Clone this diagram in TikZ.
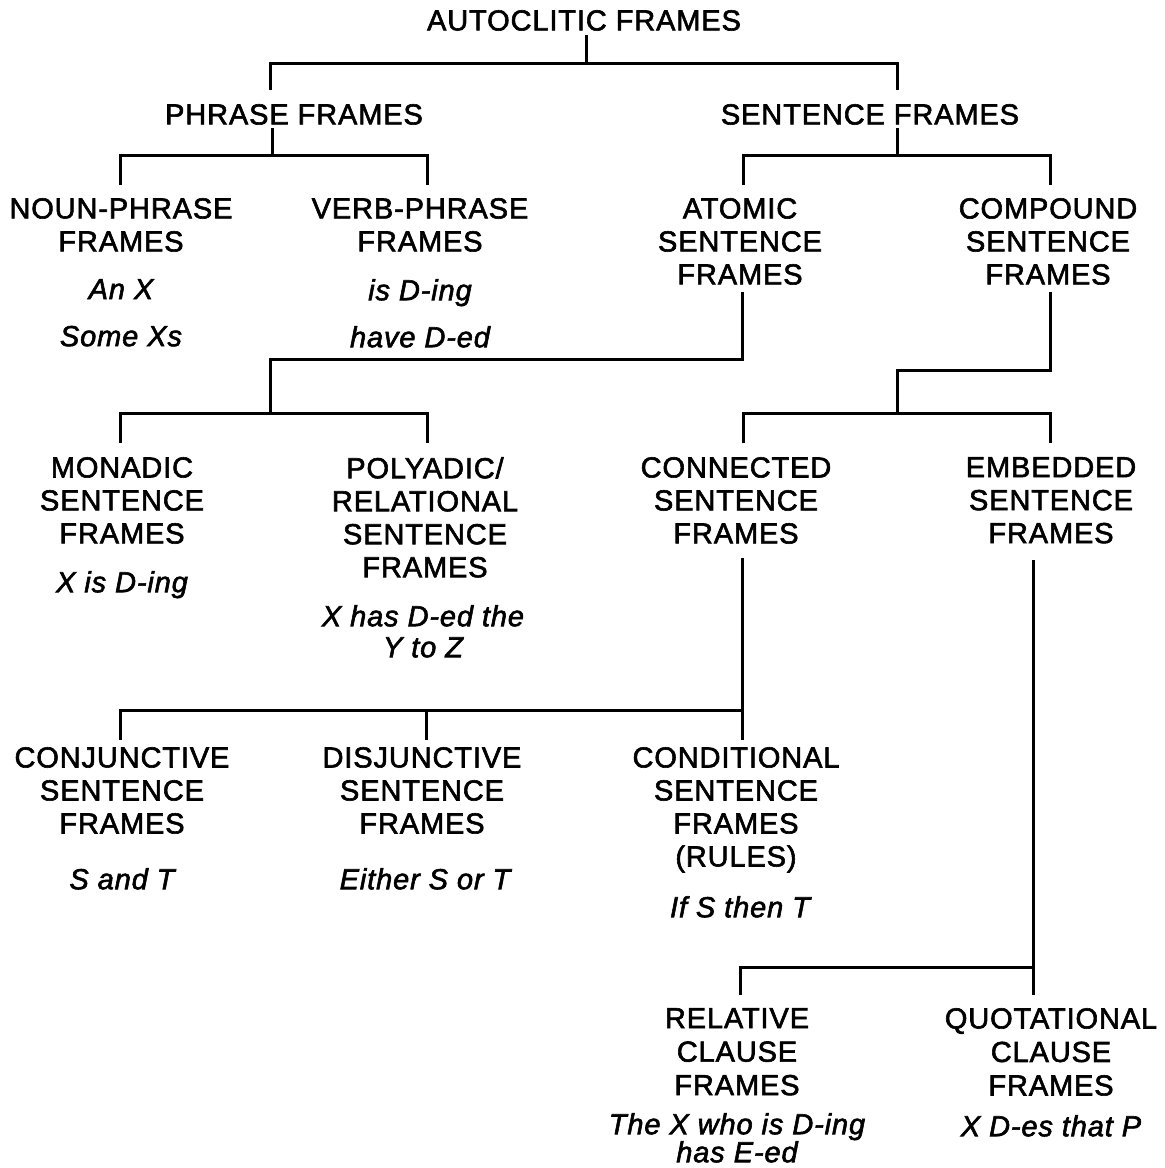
\documentclass[tikz,border=0pt]{standalone}
\usepackage{fontspec}
\setmainfont{Liberation Sans}[LetterSpace=3, FakeBold=2]
\begin{document}
\begin{tikzpicture}[x=1pt,y=-1pt,
  lbl/.style={font=\fontsize{29}{33}\selectfont, align=center, inner sep=0pt, anchor=north},
  exa/.style={font=\fontsize{29}{47}\selectfont\itshape, align=center, inner sep=0pt, anchor=north},
  link/.style={line width=3pt, line cap=butt, line join=miter}]
\useasboundingbox (0,0) rectangle (1165,1168);
\fill[white] (0,0) rectangle (1165,1168);
% titles
\node[lbl] (auto) at (584,10) {AUTOCLITIC FRAMES};
\node[lbl] (phrase) at (294,104) {PHRASE FRAMES};
\node[lbl] (sent) at (870,104) {SENTENCE FRAMES};
\node[lbl] (np) at (121,198) {NOUN-PHRASE\\FRAMES};
\node[exa] (npx) at (121,279) {An X\\Some Xs};
\node[lbl] (vp) at (420,198) {VERB-PHRASE\\FRAMES};
\node[exa] (vpx) at (420,279) {is D-ing\\have D-ed};
\node[lbl] (atom) at (740,198) {ATOMIC\\SENTENCE\\FRAMES};
\node[lbl] (comp) at (1048,198) {COMPOUND\\SENTENCE\\FRAMES};
\node[lbl] (mon) at (122,457) {MONADIC\\SENTENCE\\FRAMES};
\node[exa] (monx) at (122,571) {X is D-ing};
\node[lbl] (poly) at (425,457) {POLYADIC/\\RELATIONAL\\SENTENCE\\FRAMES};
\node[exa, font=\fontsize{29}{31}\selectfont\itshape] (polyx) at (423,605) {X has D-ed the\\Y to Z};
\node[lbl] (conn) at (736,457) {CONNECTED\\SENTENCE\\FRAMES};
\node[lbl] (emb) at (1051,457) {EMBEDDED\\SENTENCE\\FRAMES};
\node[lbl] (conj) at (122,747) {CONJUNCTIVE\\SENTENCE\\FRAMES};
\node[exa] (conjx) at (122,868) {S and T};
\node[lbl] (disj) at (422,747) {DISJUNCTIVE\\SENTENCE\\FRAMES};
\node[exa] (disjx) at (425,868) {Either S or T};
\node[lbl] (cond) at (736,747) {CONDITIONAL\\SENTENCE\\FRAMES\\(RULES)};
\node[exa] (condx) at (740,896) {If S then T};
\node[lbl, font=\fontsize{29}{33.5}\selectfont] (rel) at (737,1008) {RELATIVE\\CLAUSE\\FRAMES};
\node[exa, font=\fontsize{29}{28}\selectfont\itshape] (relx) at (737,1113) {The X who is D-ing\\has E-ed};
\node[lbl, font=\fontsize{29}{33.5}\selectfont] (quot) at (1051,1008) {QUOTATIONAL\\CLAUSE\\FRAMES};
\node[exa] (quotx) at (1051,1115) {X D-es that P};
% connector coordinates
\coordinate (autoB) at (586,35);
\coordinate (autoJ) at (586,63);
\coordinate (phraseT) at (270,90);
\coordinate (sentT) at (897,90);
\coordinate (phraseB) at (272,128);
\coordinate (phraseJ) at (272,155);
\coordinate (npT) at (120,185);
\coordinate (vpT) at (427,185);
\coordinate (sentB) at (897,128);
\coordinate (sentJ) at (897,155);
\coordinate (atomT) at (743,185);
\coordinate (compT) at (1050,185);
\coordinate (atomB) at (742,292);
\coordinate (atomK) at (742,359);
\coordinate (atomJ) at (270,413);
\coordinate (monT) at (120,443);
\coordinate (polyT) at (427,443);
\coordinate (compB) at (1050,292);
\coordinate (compK) at (1050,370);
\coordinate (compJ) at (897,413);
\coordinate (connT) at (743,443);
\coordinate (embT) at (1050,443);
\coordinate (connB) at (742,558);
\coordinate (connJ) at (742,710);
\coordinate (conjT) at (120,740);
\coordinate (disjT) at (426,740);
\coordinate (condT) at (742,740);
\coordinate (embB) at (1033,560);
\coordinate (embJ) at (1033,967);
\coordinate (relT) at (740,995);
\coordinate (quotT) at (1033,995);
% connectors
\draw[link] (autoB) -- (autoJ);
\draw[link] (phraseT) |- (autoJ) -| (sentT);
\draw[link] (phraseB) -- (phraseJ);
\draw[link] (npT) |- (phraseJ) -| (vpT);
\draw[link] (sentB) -- (sentJ);
\draw[link] (atomT) |- (sentJ) -| (compT);
\draw[link] (atomB) -- (atomK) -| (atomJ);
\draw[link] (monT) |- (atomJ) -| (polyT);
\draw[link] (compB) -- (compK) -| (compJ);
\draw[link] (connT) |- (compJ) -| (embT);
\draw[link] (connB) -- (condT);
\draw[link] (conjT) |- (connJ);
\draw[link] (disjT) -- (disjT |- connJ);
\draw[link] (embB) -- (quotT);
\draw[link] (relT) |- (embJ);
\end{tikzpicture}
\end{document}
